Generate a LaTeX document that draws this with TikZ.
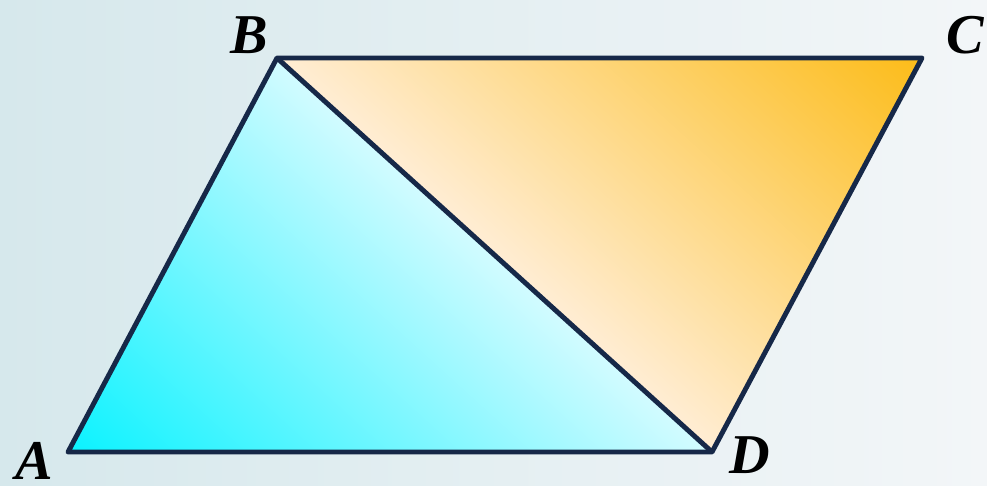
\documentclass[tikz,border=0pt]{standalone}
\usepackage{fontspec}
\setmainfont{Liberation Serif}
\definecolor{bgl}{RGB}{214,232,236}
\definecolor{bgr}{RGB}{243,246,248}
\definecolor{edge}{RGB}{22,40,72}
\definecolor{cyanD}{RGB}{10,242,255}
\definecolor{cyanM}{RGB}{120,250,255}
\definecolor{cyanL}{RGB}{210,251,255}
\definecolor{orgD}{RGB}{252,188,25}
\definecolor{orgM}{RGB}{254,214,130}
\definecolor{orgL}{RGB}{255,237,212}
\tikzset{
  lbl/.style={inner sep=0pt, font=\fontsize{32}{36}\selectfont\bfseries\itshape},
  side/.style={draw=edge, line width=2.8pt, line join=round}
}
\begin{document}
\begin{tikzpicture}[x=0.02cm,y=-0.02cm]
\shade[left color=bgl, right color=bgr] (0,0) rectangle (987,486);
\useasboundingbox (0,0) rectangle (987,486);
\coordinate (A) at (68,452);
\coordinate (B) at (277,58);
\coordinate (C) at (922,58);
\coordinate (D) at (712,452);
% left triangle: gradient perpendicular to BD
\begin{scope}
  \clip (A) -- (B) -- (D) -- cycle;
  \begin{scope}[transform canvas={rotate around={-42.2:(A)}}]
    \shade[top color=cyanL, middle color=cyanM, bottom color=cyanD] (-1000,20) rectangle (1200,452);
  \end{scope}
\end{scope}
% right triangle
\begin{scope}
  \clip (B) -- (C) -- (D) -- cycle;
  \begin{scope}[transform canvas={rotate around={-42.2:(A)}}]
    \shade[top color=orgD, middle color=orgM, bottom color=orgL] (-1000,-412) rectangle (1200,20);
  \end{scope}
\end{scope}
\draw[side] (A) -- (B) -- (C) -- (D) -- cycle;
\draw[side] (B) -- (D);
\node[lbl] (lA) at (34,461) {A};
\node[lbl] (lB) at (249,35) {B};
\node[lbl] (lC) at (965,35) {C};
\node[lbl] (lD) at (750,455) {D};
\end{tikzpicture}
\end{document}
